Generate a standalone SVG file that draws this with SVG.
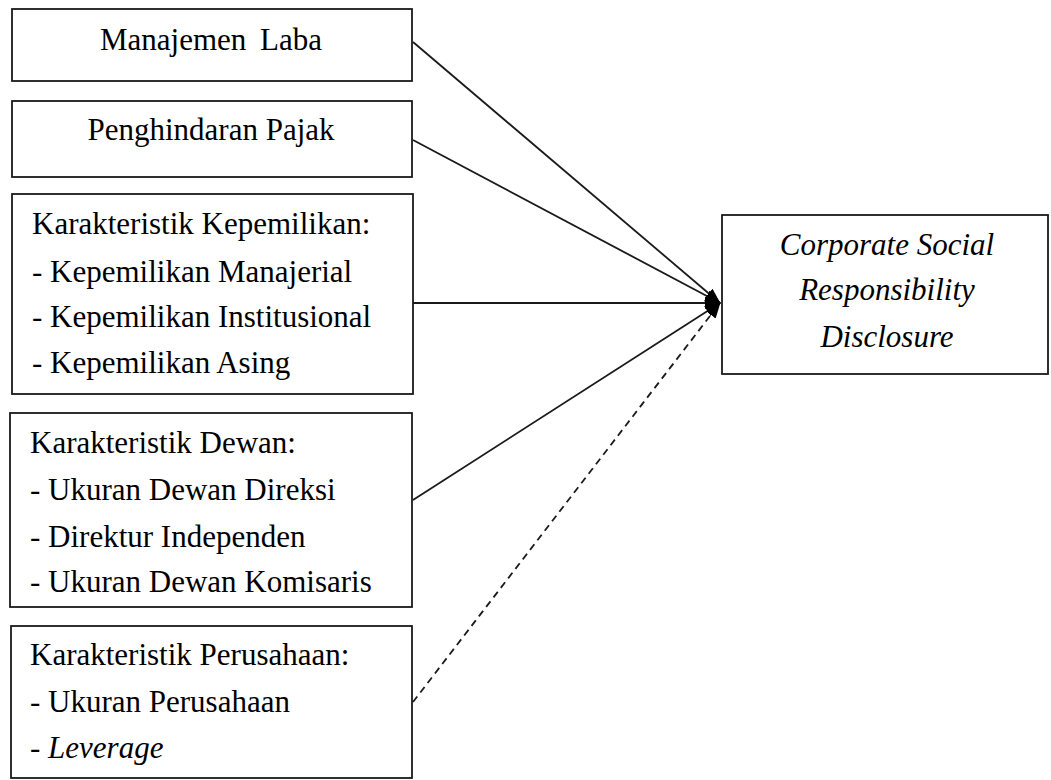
<svg xmlns="http://www.w3.org/2000/svg" width="1051" height="780" viewBox="0 0 1051 780">
  <defs>
    <marker id="arrow" viewBox="0 0 16 12" refX="15" refY="6" markerWidth="16" markerHeight="12" markerUnits="userSpaceOnUse" orient="auto">
      <path d="M0,0 L16,6 L0,12 z" fill="#000000"/>
    </marker>
  </defs>

  <rect width="1051" height="780" fill="#fff"/>

  <!-- connectors: every factor points at the disclosure box -->
  <g id="connectors" fill="none" stroke="#1a1a1a" stroke-width="1.8">
    <line x1="413" y1="42" x2="720" y2="303" marker-end="url(#arrow)"/>
    <line x1="413" y1="140" x2="720" y2="303" marker-end="url(#arrow)"/>
    <line x1="413" y1="303" x2="720" y2="303" marker-end="url(#arrow)"/>
    <line x1="413" y1="500" x2="720" y2="303" marker-end="url(#arrow)"/>
    <line x1="413" y1="702" x2="720" y2="303" stroke-dasharray="7 5" marker-end="url(#arrow)"/>
  </g>

  <!-- box outlines -->
  <g id="boxes" fill="#fff" stroke="#1a1a1a" stroke-width="1.8">
    <rect id="manajemen-laba" x="12" y="9" width="400" height="72"/>
    <rect id="penghindaran-pajak" x="12" y="101" width="400" height="76"/>
    <rect id="karakteristik-kepemilikan" x="12" y="194" width="401" height="200"/>
    <rect id="karakteristik-dewan" x="10" y="413" width="402" height="194"/>
    <rect id="karakteristik-perusahaan" x="11" y="626" width="401" height="152"/>
    <rect id="csr-disclosure" x="722" y="215" width="326" height="159"/>
  </g>

  <!-- box labels -->
  <g id="labels" font-size="31">
    <text x="211" y="50" font-family="Liberation Serif" text-anchor="middle" word-spacing="6">Manajemen Laba</text>
    <text x="211" y="140" font-family="Liberation Serif" text-anchor="middle">Penghindaran Pajak</text>

    <text x="32" y="234" font-family="Liberation Serif">Karakteristik Kepemilikan:</text>
    <text x="32" y="282" font-family="Liberation Serif">- Kepemilikan Manajerial</text>
    <text x="32" y="327" font-family="Liberation Serif">- Kepemilikan Institusional</text>
    <text x="32" y="373" font-family="Liberation Serif">- Kepemilikan Asing</text>

    <text x="30" y="453" font-family="Liberation Serif">Karakteristik Dewan:</text>
    <text x="30" y="500" font-family="Liberation Serif">- Ukuran Dewan Direksi</text>
    <text x="30" y="547" font-family="Liberation Serif">- Direktur Independen</text>
    <text x="30" y="592" font-family="Liberation Serif">- Ukuran Dewan Komisaris</text>

    <text x="30" y="665" font-family="Liberation Serif">Karakteristik Perusahaan:</text>
    <text x="30" y="712" font-family="Liberation Serif">- Ukuran Perusahaan</text>
    <text x="30" y="758" font-family="Liberation Serif">- <tspan font-style="italic">Leverage</tspan></text>

    <text x="887" y="255" font-family="Liberation Serif" font-style="italic" text-anchor="middle">Corporate Social</text>
    <text x="887" y="300" font-family="Liberation Serif" font-style="italic" text-anchor="middle">Responsibility</text>
    <text x="887" y="347" font-family="Liberation Serif" font-style="italic" text-anchor="middle">Disclosure</text>
  </g>
</svg>
